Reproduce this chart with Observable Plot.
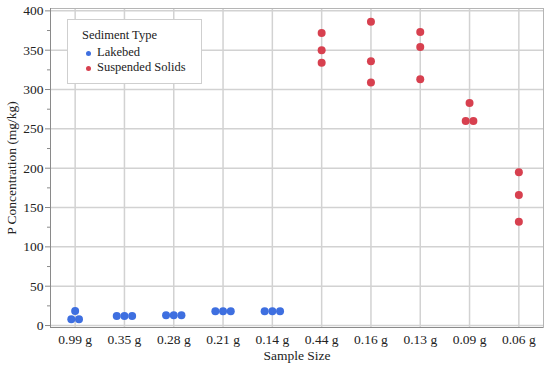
<!DOCTYPE html>
<html>
<head>
<meta charset="utf-8">
<script src="https://cdn.jsdelivr.net/npm/d3@7"></script>
<script src="https://cdn.jsdelivr.net/npm/@observablehq/plot@0.6"></script>
<style>
  html, body { margin: 0; padding: 0; background: #fff; }
  #wrap { position: relative; width: 550px; height: 369px; font-family: "Liberation Serif", serif; }
  #wrap svg, #wrap svg text { font-family: "Liberation Serif", serif !important; }
  #legend { position: absolute; left: 67px; top: 19px; width: 135px; height: 65px; border: 1px solid #cfcfcf; background: #fff; box-sizing: border-box; font-size: 12.5px; color: #222; }
  #legend .title { position: absolute; left: 14px; top: 8px; }
  #legend .item { position: absolute; left: 29px; }
  #legend .dot { position: absolute; left: -11px; top: 5.5px; width: 5px; height: 5px; border-radius: 50%; }
</style>
</head>
<body>
<div id="wrap"></div>
<script>
const categories = ["0.99 g", "0.35 g", "0.28 g", "0.21 g", "0.14 g", "0.44 g", "0.16 g", "0.13 g", "0.09 g", "0.06 g"];
const seriesNames = ["Lakebed", "Suspended Solids"];
const seriesColors = ["#3e6fe0", "#d7404f"];
const lakebedCategories = ["0.99 g", "0.35 g", "0.28 g", "0.21 g", "0.14 g"];
const lakebedValues = [[18.5, 8, 8], [12, 12, 12], [13, 13, 13], [18, 18, 18], [18, 18, 18]];
const suspendedCategories = ["0.44 g", "0.16 g", "0.13 g", "0.09 g", "0.06 g"];
const suspendedValues = [[372, 350, 334], [386, 336, 309], [373, 354, 313], [283, 260, 260], [195, 166, 132]];
const yTicks = [0, 50, 100, 150, 200, 250, 300, 350, 400];
const yMinorTicks = [25, 75, 125, 175, 225, 275, 325, 375];

const dodgeStep = 0.156;
const rows = [];
function addSeries(name, cats, vals) {
  cats.forEach((c, ci) => {
    const vs = vals[ci];
    const groups = d3.group(vs.map((v, k) => ({v, k})), d => d.v);
    for (const [v, g] of groups) {
      g.forEach((d, i) => {
        rows.push({type: name, cat: c, idx: categories.indexOf(c), value: v, off: (i - (g.length - 1) / 2) * dodgeStep});
      });
    }
  });
}
addSeries(seriesNames[0], lakebedCategories, lakebedValues);
addSeries(seriesNames[1], suspendedCategories, suspendedValues);

const idx = categories.map((c, i) => i);

const chart = Plot.plot({
  width: 550,
  height: 369,
  marginLeft: 50,
  marginRight: 7,
  marginTop: 8,
  marginBottom: 42,
  style: "font-family: 'Liberation Serif', serif; font-size: 13.5px; color: #222; background: #fff;",
  x: {type: "linear", domain: [-0.5, 9.5]},
  y: {domain: [-2.5, 403]},
  color: {domain: seriesNames, range: seriesColors},
  marks: [
    Plot.gridX(idx, {stroke: "#d2d2d2", strokeOpacity: 1, strokeWidth: 1.5}),
    Plot.gridY(yTicks, {stroke: "#d2d2d2", strokeOpacity: 1, strokeWidth: 1.5}),
    Plot.frame({stroke: "#b5b5b5", strokeWidth: 1}),
    Plot.ruleX([-0.5], {stroke: "#8a8a8a"}),
    Plot.ruleY([-2.5], {stroke: "#8a8a8a"}),
    Plot.axisY({ticks: yTicks, tickSize: 5, tickPadding: 2, stroke: "#8a8a8a", label: "P Concentration (mg/kg)", labelAnchor: "center", labelArrow: "none", labelOffset: 44, fontSize: 13.5}),
    Plot.axisY({ticks: yMinorTicks, tickSize: 3, text: null, stroke: "#8a8a8a", label: null}),
    Plot.axisX({ticks: idx, tickFormat: i => categories[i], tickSize: 0, tickPadding: 7, label: "Sample Size", labelAnchor: "center", labelArrow: "none", labelOffset: 32, fontSize: 13.5}),
    Plot.dot(rows, {x: d => d.idx + d.off, y: "value", fill: "type", r: 4, stroke: "none"})
  ]
});

const wrap = document.getElementById("wrap");
wrap.appendChild(chart);

const legend = document.createElement("div");
legend.id = "legend";
const title = document.createElement("div");
title.className = "title";
title.textContent = "Sediment Type";
legend.appendChild(title);
seriesNames.forEach((name, i) => {
  const item = document.createElement("div");
  item.className = "item";
  item.style.top = (25 + i * 15) + "px";
  const dot = document.createElement("span");
  dot.className = "dot";
  dot.style.background = seriesColors[i];
  item.appendChild(dot);
  item.appendChild(document.createTextNode(name));
  legend.appendChild(item);
});
wrap.appendChild(legend);
</script>
</body>
</html>
